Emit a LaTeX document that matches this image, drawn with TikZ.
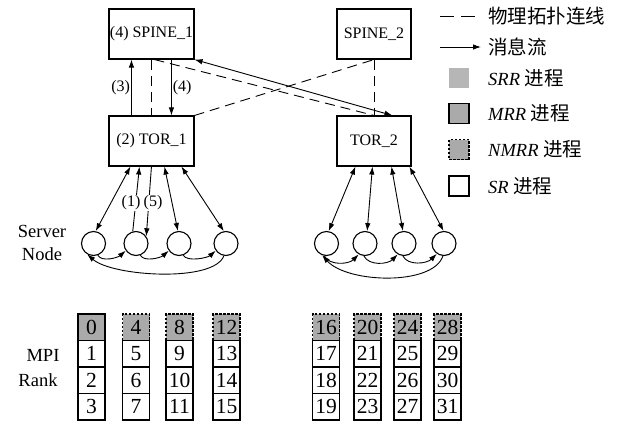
\documentclass[tikz,border=0pt]{standalone}
\usepackage{fontspec}
\setmainfont{Liberation Serif}
\newfontfamily\cjk{Noto Sans CJK SC}
\usetikzlibrary{arrows.meta,calc}

\definecolor{srrgray}{RGB}{182,182,182}
\definecolor{mrrgray}{RGB}{170,170,170}

\begin{document}
\begin{tikzpicture}[x=1pt,y=-1pt,
  switchbox/.style={draw, line width=1.1pt, inner sep=0pt, minimum height=50pt,
    font=\fontsize{16}{19}\selectfont},
  server/.style={draw, circle, line width=1.1pt, minimum size=24pt, inner sep=0pt},
  link/.style={line width=0.9pt},
  phys/.style={link, dash pattern=on 10pt off 6pt},
  tip/.tip={Latex[length=8pt,width=5.5pt]},
  msg/.style={link, -tip},
  duplex/.style={link, tip-tip},
  lbl/.style={font=\fontsize{16}{19}\selectfont, inner sep=1pt},
  biglbl/.style={font=\fontsize{18.5}{23}\selectfont, inner sep=0pt},
  legtext/.style={anchor=west, inner sep=0pt, font=\fontsize{18.5}{22}\selectfont},
  rankcell/.style={draw, line width=1.3pt, inner sep=0pt, minimum width=27pt,
    minimum height=26.5pt, font=\fontsize{21.5}{24}\selectfont},
  mrrcell/.style={rankcell, fill=mrrgray},
  nmrrcell/.style={rankcell, fill=mrrgray, dash pattern=on 2.5pt off 1.5pt},
  legsq/.style={minimum size=20pt, inner sep=0pt, line width=1.1pt}
]
\useasboundingbox[fill=white] (0,0) rectangle (619,421);

% switches
\node[switchbox, minimum width=85pt] (spine1) at (151.5,34) {(4) SPINE\_1};
\node[switchbox, minimum width=74pt] (spine2) at (374,34) {SPINE\_2};
\node[switchbox, minimum width=85pt] (tor1) at (151.5,141) {(2) TOR\_1};
\node[switchbox, minimum width=74pt] (tor2) at (374,141) {TOR\_2};

% physical links
\draw[phys] ($(spine1.south west)+(43,0)$) -- ($(tor1.north west)+(43,0)$);
\draw[phys] ($(spine1.south west)+(46,0)$) -- (tor2.north);
\draw[phys] (tor1.north east) -- (spine2.south);
\draw[phys] (spine2.south) -- (tor2.north);

% messages between switches
\draw[msg] ($(tor1.north west)+(23,0)$) -- ($(spine1.south west)+(23,0)$)
  node[midway, left, lbl] {(3)};
\draw[msg] ($(spine1.south west)+(63,0)$) -- ($(tor1.north west)+(63,0)$)
  node[midway, right, lbl] {(4)};
\draw[duplex] (spine1.south east) -- ($(tor2.north west)+(56,0)$);

% server nodes
\foreach \i/\x in {1/93.5, 2/136, 3/179, 4/226}
  \node[server] (c\i) at (\x,243.5) {};
\foreach \i/\x in {1/326.5, 2/365, 3/404, 4/444}
  \node[server] (d\i) at (\x,243.5) {};

% TOR_1 to its servers
\draw[duplex] ($(tor1.south west)+(22,0)$) -- (c1.80);
\draw[msg] (c2.105) -- ($(tor1.south west)+(31,0)$);
\draw[msg] ($(tor1.south west)+(43,0)$) -- (c2.35);
\draw[duplex] ($(tor1.south west)+(56,0)$) -- (c3.95);
\draw[duplex] ($(tor1.south west)+(73,0)$) -- (c4.100);
\node[lbl, fill=white] (m1) at (131,203) {(1)};
\node[lbl, fill=white] (m5) at (153,203) {(5)};

% TOR_2 to its servers
\draw[duplex] ($(tor2.south west)+(19,0)$) -- (d1.80);
\draw[duplex] ($(tor2.south west)+(36,0)$) -- (d2.80);
\draw[duplex] ($(tor2.south west)+(55,0)$) -- (d3.95);
\draw[duplex] ($(tor2.south west)+(73,0)$) -- (d4.92);

% rings between servers
\draw[msg] (c1.-70) .. controls +(4,7) and +(-8,7) .. (c2.-145);
\draw[msg] (c2.-70) .. controls +(4,7) and +(-8,7) .. (c3.-145);
\draw[msg] (c3.-70) .. controls +(4,7) and +(-8,7) .. (c4.-145);
\draw[msg] (c4.-100) .. controls +(-10,27) and +(25,22) .. (c1.-120);

\draw[msg] (d1.-100) .. controls +(5,10) and +(-10,10) .. (d2.-120);
\draw[msg] (d2.-95) .. controls +(5,10) and +(-10,10) .. (d3.-120);
\draw[msg] (d3.-95) .. controls +(5,10) and +(-10,10) .. (d4.-125);
\draw[msg] (d4.-95) .. controls +(-10,30) and +(25,28) .. (d1.-110);

\node[biglbl, align=center] (srvlbl) at (42,243) {Server\\Node};

% MPI ranks
\node[biglbl] (mpilbl) at (43,355) {MPI};
\node[biglbl] (ranklbl) at (38,380) {Rank};
\foreach \c/\x in {0/91.5, 1/136, 2/179.5, 3/226.5, 4/326, 5/367.5, 6/407.5, 7/447.5} {
  \foreach \r in {0,1,2,3} {
    \pgfmathtruncatemacro{\n}{4*\c+\r}
    \pgfmathsetmacro{\yy}{327.25+26.5*\r}
    \ifnum\r=0
      \ifnum\c=0
        \node[mrrcell] (r\n) at (\x,\yy) {\n};
      \else
        \node[nmrrcell] (r\n) at (\x,\yy) {\n};
      \fi
    \else
      \node[rankcell] (r\n) at (\x,\yy) {\n};
    \fi
  }
}

% legend
\coordinate (la) at (440,16);
\coordinate (lb) at (475,16);
\coordinate (lc) at (440,47);
\coordinate (ld) at (481,47);
\draw[link, dash pattern=on 14pt off 7pt] (la) -- (lb);
\draw[msg] (lc) -- (ld);
\node[legtext] (t1) at (488,16) {\cjk\fontsize{19.5}{22}\selectfont 物理拓扑连线};
\node[legtext] (t2) at (488,47) {\cjk\fontsize{19.5}{22}\selectfont 消息流};
\node[legsq, fill=srrgray] (q1) at (459,78) {};
\node[legsq, draw, fill=mrrgray] (q2) at (459,113.5) {};
\node[legsq, draw, fill=mrrgray, dash pattern=on 2.5pt off 1.5pt] (q3) at (459,149.5) {};
\node[legsq, draw, fill=white] (q4) at (459,186) {};
\node[legtext] (t3) at (488,78) {\textit{SRR} {\cjk\fontsize{19.5}{22}\selectfont 进程}};
\node[legtext] (t4) at (488,113.5) {\textit{MRR} {\cjk\fontsize{19.5}{22}\selectfont 进程}};
\node[legtext] (t5) at (488,149.5) {\textit{NMRR} {\cjk\fontsize{19.5}{22}\selectfont 进程}};
\node[legtext] (t6) at (488,186) {\textit{SR} {\cjk\fontsize{19.5}{22}\selectfont 进程}};
\end{tikzpicture}
\end{document}
